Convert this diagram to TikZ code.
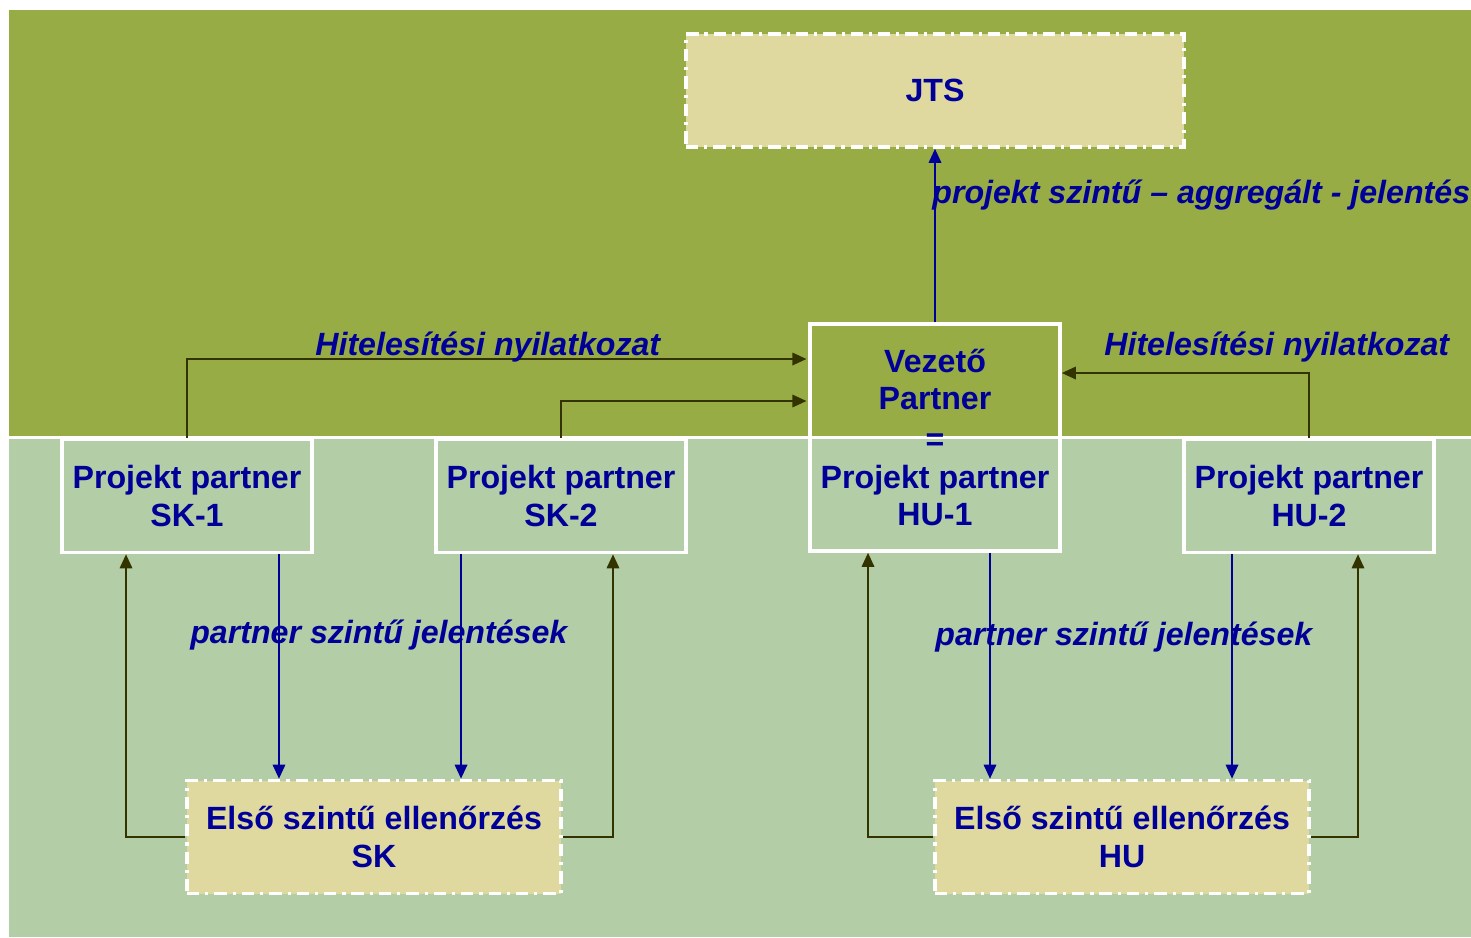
\documentclass[tikz,border=0pt]{standalone}
\usepackage{fontspec}
\setmainfont{Liberation Sans}
\usetikzlibrary{arrows.meta}
\definecolor{topgreen}{HTML}{97AC45}
\definecolor{lowgreen}{HTML}{B3CDA6}
\definecolor{boxfill}{HTML}{DFD9A0}
\definecolor{txtblue}{HTML}{000099}
\definecolor{darkol}{HTML}{333300}
\tikzset{
  pbox/.style={draw=white, line width=2pt, minimum width=5cm, minimum height=2.26cm,
    align=center, text=txtblue, font=\fontsize{18.3}{21.5}\selectfont\bfseries, inner sep=0pt},
  dbox/.style={draw=white, fill=boxfill, line width=2pt, minimum height=2.26cm,
    dash pattern=on 7pt off 3.4pt on 1.8pt off 3.4pt,
    align=center, text=txtblue, font=\fontsize{18.3}{21.5}\selectfont\bfseries, inner sep=0pt},
  lbl/.style={text=txtblue, font=\fontsize{18.3}{21.5}\selectfont\bfseries\itshape, inner sep=0pt, anchor=base west},
  darr/.style={draw=darkol, line width=1.3pt, -{Triangle[length=8pt,width=7pt]}},
  barr/.style={draw=txtblue, line width=1.3pt, -{Triangle[length=8pt,width=7pt]}},
}
\begin{document}
\begin{tikzpicture}[x=0.02cm,y=-0.02cm]
\useasboundingbox (0,0) rectangle (1471,937);
\fill[white] (0,0) rectangle (1471,937);
\fill[topgreen] (9,10) rectangle (1471,436);
\fill[lowgreen] (9,439) rectangle (1471,937);

\node[dbox, minimum width=9.96cm] (jts) at (935,90.5) {JTS};
\node[pbox, minimum height=4.54cm] (vez) at (935,437.5) {Vezető\\Partner\\[1.5pt]=\\Projekt partner\\HU-1};
\node[pbox] (sk1) at (187,496) {Projekt partner\\SK-1};
\node[pbox] (sk2) at (561,496) {Projekt partner\\SK-2};
\node[pbox] (hu2) at (1309,496) {Projekt partner\\HU-2};
\node[dbox, minimum width=7.48cm] (els1) at (374,837) {Első szintű ellenőrzés\\SK};
\node[dbox, minimum width=7.48cm] (els2) at (1122,837) {Első szintű ellenőrzés\\HU};

% upward reports
\draw[barr] (vez.north) -- (jts.south);
\draw[darr, shorten >=1pt] (sk1.north) |- ([yshift=1.57cm]vez.west);
\draw[darr, shorten >=1pt] (sk2.north) |- ([yshift=0.73cm]vez.west);
\draw[darr] (hu2.north) |- ([yshift=1.29cm]vez.east);

% partner reports down
\draw[barr] ([xshift=1.84cm]sk1.south) -- ([xshift=1.84cm]sk1.south |- els1.north);
\draw[barr] ([xshift=-2cm]sk2.south) -- ([xshift=-2cm]sk2.south |- els1.north);
\draw[barr] ([xshift=1.1cm]vez.south) -- ([xshift=1.1cm]vez.south |- els2.north);
\draw[barr] ([xshift=-1.54cm]hu2.south) -- ([xshift=-1.54cm]hu2.south |- els2.north);

% first level control back up
\draw[darr] (els1.west) -| ([xshift=-1.22cm]sk1.south);
\draw[darr] (els1.east) -| ([xshift=1.04cm]sk2.south);
\draw[darr] (els2.west) -| ([xshift=-1.34cm]vez.south);
\draw[darr] (els2.east) -| ([xshift=0.98cm]hu2.south);

% labels
\node[lbl] (l1) at (315,355) {Hitelesítési nyilatkozat};
\node[lbl] (l2) at (1104,355) {Hitelesítési nyilatkozat};
\node[lbl] (l3) at (932,203) {projekt szintű – aggregált - jelentés};
\node[lbl] (l4) at (190,643) {partner szintű jelentések};
\node[lbl] (l5) at (935,645) {partner szintű jelentések};
\end{tikzpicture}
\end{document}
